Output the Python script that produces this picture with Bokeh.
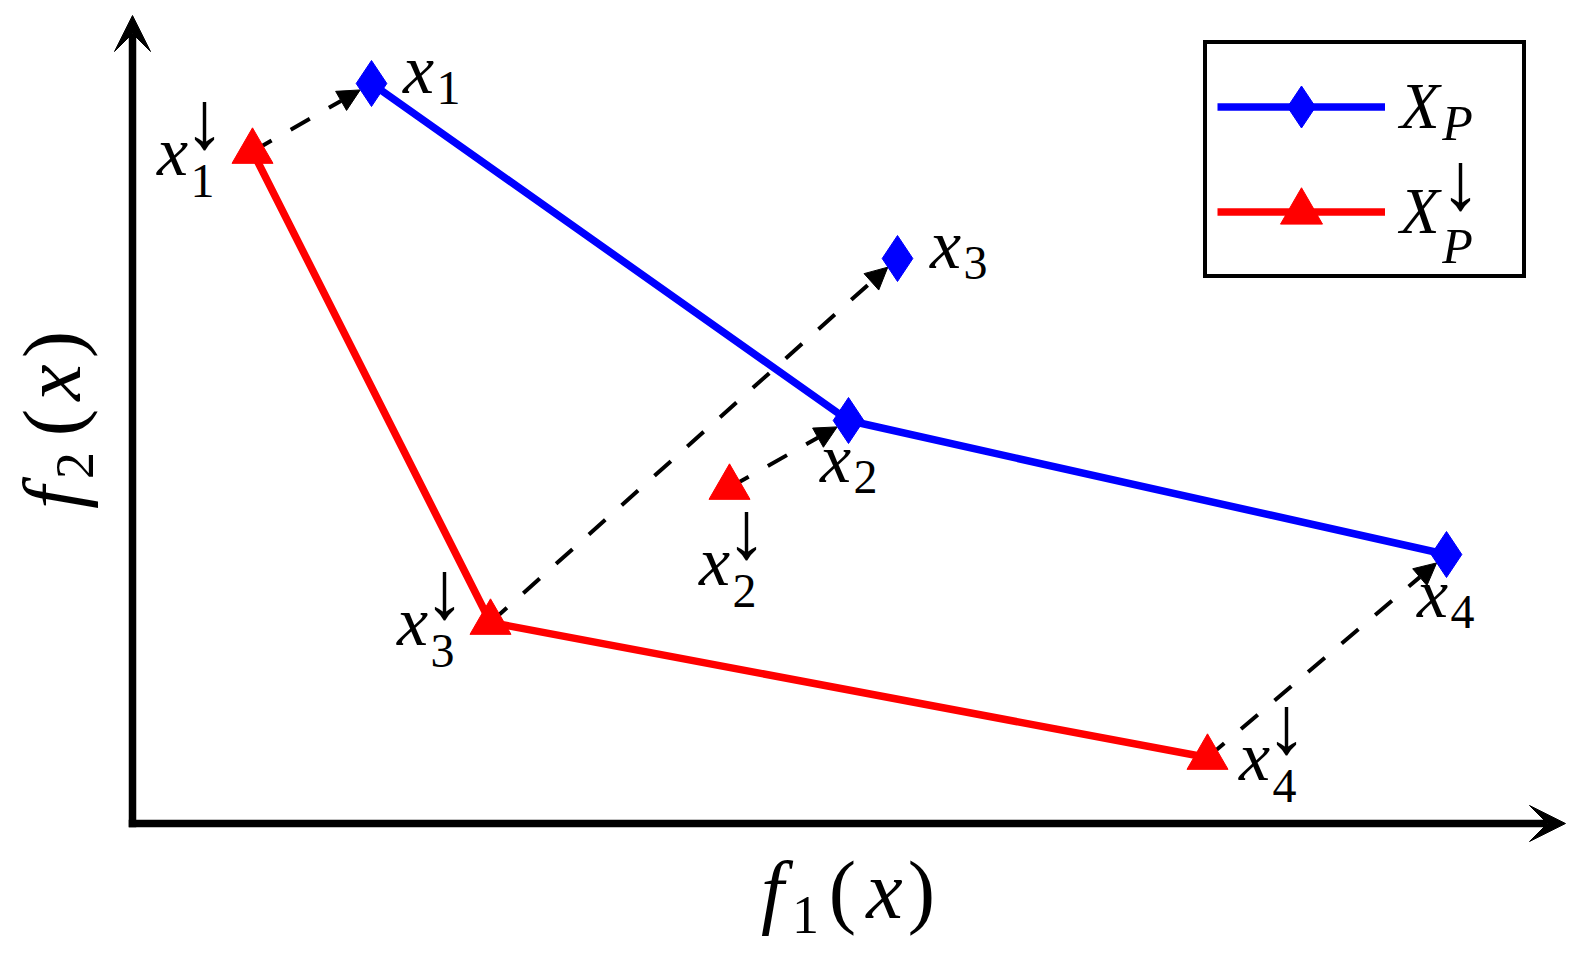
import numpy as np
from bokeh.plotting import figure
from bokeh.models import (Arrow, VeeHead, NormalHead, Label, Legend, LegendItem,
                          ColumnDataSource, Range1d)
from bokeh.core.properties import value
from bokeh.embed import file_html
from bokeh.resources import INLINE

# ---------------- data (objective space) ----------------
point_ids = ["1", "2", "3", "4"]
xp_f1 = [2.39, 7.16, 7.65, 13.14]     # X_P
xp_f2 = [7.40, 4.03, 5.65, 2.69]
xd_f1 = [1.20, 5.97, 3.58, 10.75]     # X_P (down)
xd_f2 = [6.72, 3.36, 2.01, 0.66]
xp_front = [0, 1, 3]                  # points joined by the blue line
xd_front = [0, 2, 3]                  # points joined by the red line

# ---------------- layout / style ----------------
W, H = 1584, 957
X0, X1 = -1.32, 14.52
Y0, Y1 = -1.34, 8.23
AX_X_END, AX_Y_END = 14.33, 8.08
AX_LW = 7.5
SERIF = "Liberation Serif"
ARROW_SHORT = 0.13
K_MID = 0.34          # em-middle above the alphabetic baseline

# label offsets in px (x-glyph centre / baseline relative to the marker, +y = down)
xp_lab_dx = [47, -13, 48, -14]
xp_lab_dy = [10, 62, 10, 63]
xd_lab_dx = [-80, -15, -78, 47]
xd_lab_dy = [24, 98, 23, 23]


def page2data(px, py):
    return ((px - 132) / 100.0, (823 - py) / 100.0)


p = figure(width=W, height=H, x_range=Range1d(X0, X1), y_range=Range1d(Y0, Y1),
           output_backend="svg", toolbar_location=None,
           x_axis_type=None, y_axis_type=None, min_border=0)
p.outline_line_color = None
p.background_fill_color = "white"

# axes as arrows
half = AX_LW / 2 / 100.0
for xs0, ys0, xe, ye in [(-half, 0, AX_X_END, 0), (0, -half, 0, AX_Y_END)]:
    p.add_layout(Arrow(end=VeeHead(size=36, fill_color="black", line_color="black", line_width=1),
                       x_start=xs0, y_start=ys0, x_end=xe, y_end=ye,
                       line_width=AX_LW, line_color="black"))

# dashed arrows x_i(down) -> x_i
xs = np.array(xd_f1); ys = np.array(xd_f2)
xe = np.array(xp_f1); ye = np.array(xp_f2)
L = np.hypot(xe - xs, ye - ys)
arr_src = ColumnDataSource(dict(xs=xs, ys=ys,
                                xe=xe - (xe - xs) / L * ARROW_SHORT,
                                ye=ye - (ye - ys) / L * ARROW_SHORT))
p.add_layout(Arrow(end=NormalHead(size=22, fill_color="black", line_color="black", line_width=1),
                   source=arr_src, x_start="xs", y_start="ys", x_end="xe", y_end="ye",
                   line_width=4, line_color="black", line_dash="22 22", level="underlay"))

bl = p.line([xp_f1[i] for i in xp_front], [xp_f2[i] for i in xp_front],
            line_color="#0000ff", line_width=7.5)
rl = p.line([xd_f1[i] for i in xd_front], [xd_f2[i] for i in xd_front],
            line_color="#ff0000", line_width=7.5)
bs = p.scatter(xp_f1, xp_f2, marker="diamond", size=46, color="#0000ff")
rs = p.scatter(xd_f1, xd_f2, marker="triangle", size=41, color="#ff0000")

MAIN, SUB, ARR = 70, 48, 82


def point_labels(fx, fy, dxs, dys, sub_dy, with_arrow):
    src = ColumnDataSource(dict(
        x=fx, y=fy, main=["x"] * 4, sub=point_ids, arr=["\u2193"] * 4,
        mdx=dxs, mdy=[d - K_MID * MAIN for d in dys],
        sdx=[d + 30 for d in dxs], sdy=[d + sub_dy - K_MID * SUB for d in dys],
        adx=[d + 32 for d in dxs], ady=[d - 55 for d in dys]))
    p.text(x="x", y="y", text="main", x_offset="mdx", y_offset="mdy", source=src,
           text_font=value(SERIF), text_font_style="italic", text_font_size=f"{MAIN}px",
           text_align="center", text_baseline="middle", text_color="black")
    p.text(x="x", y="y", text="sub", x_offset="sdx", y_offset="sdy", source=src,
           text_font=value(SERIF), text_font_size=f"{SUB}px",
           text_align="center", text_baseline="middle", text_color="black")
    if with_arrow:
        p.text(x="x", y="y", text="arr", x_offset="adx", y_offset="ady", source=src,
               text_font=value(SERIF), text_font_size=f"{ARR}px",
               text_align="center", text_baseline="middle", text_color="black")


point_labels(xp_f1, xp_f2, xp_lab_dx, xp_lab_dy, 11, False)
point_labels(xd_f1, xd_f2, xd_lab_dx, xd_lab_dy, 22, True)

# legend
legend = Legend(items=[LegendItem(label="X", renderers=[bl, bs]),
                       LegendItem(label="X", renderers=[rl, rs])],
                location=(1203, 679), margin=0, padding=10, spacing=0,
                glyph_width=168, glyph_height=105, label_height=105, label_width=112,
                label_standoff=15,
                label_text_font=SERIF, label_text_font_style="italic",
                label_text_font_size="65px", label_text_baseline="middle",
                label_text_color="black",
                border_line_color="black", border_line_width=4, border_line_alpha=1.0,
                background_fill_alpha=0.0)
p.add_layout(legend)


def add_label(text, px, py, size, italic=False, angle=0.0):
    x, y = page2data(px, py)
    p.add_layout(Label(x=x, y=y, text=text, text_font=SERIF, text_font_size=f"{size}px",
                       text_font_style="italic" if italic else "normal",
                       text_align="center", text_baseline="middle",
                       text_color="black", angle=angle, level="overlay"))


# legend sub/superscripts (positions given as em-middle)
add_label("P", 1457, 139 - K_MID * 50, 50, italic=True)
add_label("P", 1457, 262 - K_MID * 50, 50, italic=True)
add_label("\u2193", 1460, 181, ARR)

# axis label f1(x)
add_label("f", 772, 918 - K_MID * 82, 82, italic=True)
add_label("1", 805, 933 - K_MID * 54, 54)
add_label("(", 842, 918 - K_MID * 82, 82)
add_label("x", 884, 918 - K_MID * 82, 82, italic=True)
add_label(")", 921, 918 - K_MID * 82, 82)
# axis label f2(x), rotated
R = np.pi / 2
add_label("f", 80 - K_MID * 82, 497, 82, italic=True, angle=R)
add_label("2", 93 - K_MID * 54, 465, 54, angle=R)
add_label("(", 80 - K_MID * 82, 422, 82, angle=R)
add_label("x", 80 - K_MID * 82, 382, 82, italic=True, angle=R)
add_label(")", 80 - K_MID * 82, 344, 82, angle=R)

open("out.html", "w").write(file_html(p, INLINE))
